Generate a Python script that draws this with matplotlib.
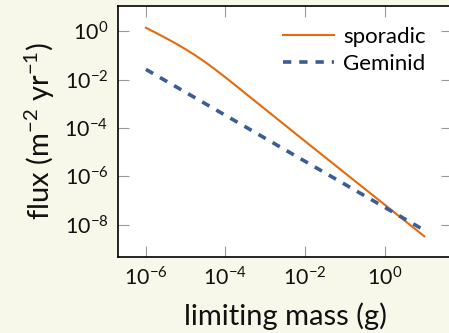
import numpy as np
import matplotlib
matplotlib.use("Agg")
import matplotlib.pyplot as plt

# limiting mass (g) and flux (log10 values)
log_mass_sporadic = [-6.0, -5.75, -5.5, -5.25, -5.0, -4.75, -4.5, -4.25, -4.0,
                     -3.75, -3.5, -3.0, -2.0, -1.0, 0.0, 1.0]
log_flux_sporadic = [0.14, -0.07, -0.285, -0.51, -0.75, -1.01, -1.29, -1.595, -1.91,
                     -2.24, -2.57, -3.23, -4.55, -5.86, -7.17, -8.48]

log_mass_geminid = [-6, -5, -4, -3, -2, -1, 0, 1]
log_flux_geminid = [-1.58, -2.53, -3.48, -4.43, -5.38, -6.33, -7.28, -8.23]

xticks = [1e-6, 1e-4, 1e-2, 1e0]
yticks = [1e0, 1e-2, 1e-4, 1e-6, 1e-8]

bg = '#f8f8ea'
orange = '#e66a0a'
blue = '#3b5d95'

plt.rcParams['font.family'] = ['Lato', 'DejaVu Sans']
plt.rcParams['mathtext.fontset'] = 'custom'
plt.rcParams['mathtext.rm'] = 'Lato'
plt.rcParams['mathtext.it'] = 'Lato:italic'

fig = plt.figure(figsize=(4.49, 3.33), dpi=100, facecolor=bg)
ax = fig.add_axes([0.263, 0.228, 0.744, 0.754])
ax.set_facecolor('white')

ax.plot(10.0 ** np.array(log_mass_sporadic), 10.0 ** np.array(log_flux_sporadic),
        color=orange, lw=1.5, label='sporadic')
ax.plot(10.0 ** np.array(log_mass_geminid), 10.0 ** np.array(log_flux_geminid),
        color=blue, lw=2.6, dashes=(2.3, 2.2), dash_capstyle='butt', label='Geminid')

ax.set_xscale('log')
ax.set_yscale('log')
ax.set_xlim(10**-6.7, 10**1.7)
ax.set_ylim(10**-9.34, 10**1.04)
ax.set_xticks(xticks)
ax.set_yticks(yticks)
ax.minorticks_off()
ax.tick_params(which='both', direction='in', length=8, width=0.8, color='#999999',
               top=True, right=True, labelsize=15.5, pad=7, labelcolor='#111111')

for s in ax.spines.values():
    s.set_linewidth(1.2)

ax.set_xlabel('limiting mass (g)', fontsize=21, labelpad=9, color='#111111')
ax.set_ylabel(r'flux (m$^{-2}$ yr$^{-1}$)', fontsize=21, labelpad=5, color='#111111')

ax.legend(loc='upper right', bbox_to_anchor=(0.98, 0.995), frameon=False, fontsize=16,
          handlelength=2.3, handletextpad=0.4, labelspacing=0.3)

fig.savefig('out.png', dpi=100, facecolor=bg)
